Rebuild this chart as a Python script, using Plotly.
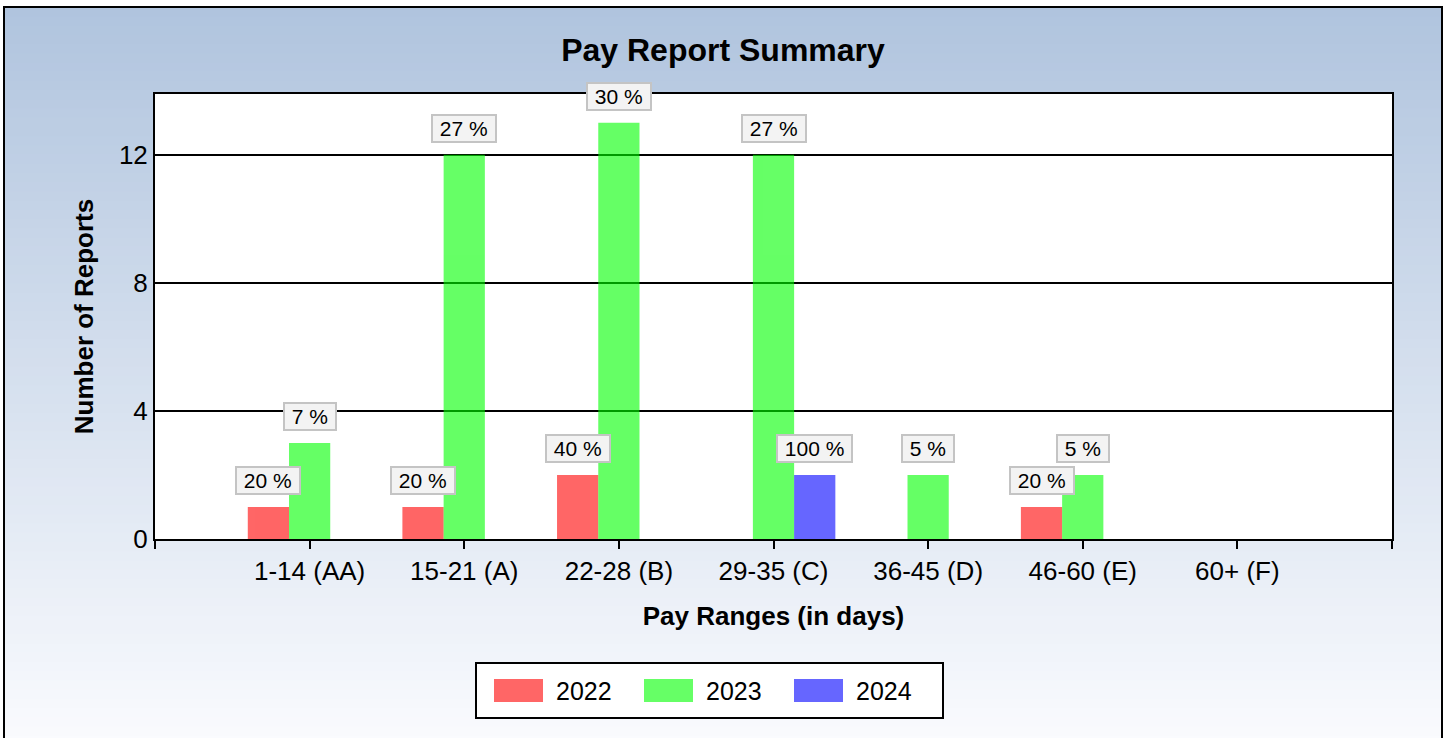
import plotly.graph_objects as go

# ---------------- data ----------------
CATEGORIES = ["1-14 (AA)", "15-21 (A)", "22-28 (B)", "29-35 (C)", "36-45 (D)", "46-60 (E)", "60+ (F)"]
SERIES = ["2022", "2023", "2024"]
VALUES_2022 = [1, 1, 2, 0, 0, 1, 0]
VALUES_2023 = [3, 12, 13, 12, 2, 2, 0]
VALUES_2024 = [0, 0, 0, 2, 0, 0, 0]
LABELS_2022 = ["20 %", "20 %", "40 %", "", "", "20 %", ""]
LABELS_2023 = ["7 %", "27 %", "30 %", "27 %", "5 %", "5 %", ""]
LABELS_2024 = ["", "", "", "100 %", "", "", ""]
Y_TICKS = [0, 4, 8, 12]

VALUES = [VALUES_2022, VALUES_2023, VALUES_2024]
LABELS = [LABELS_2022, LABELS_2023, LABELS_2024]
COLORS = ["#FF0000", "#00FF00", "#0000FF"]
SWATCH = ["#FF6666", "#66FF66", "#6666FF"]

FONT = "Arial, 'Liberation Sans', sans-serif"
W, H = 1446, 738
L, R, T, B = 155, 1392, 94, 539
BARGAP = 0.2


def px(x):
    return (x - L) / (R - L)


def py(y):
    return (B - y) / (B - T)


fig = go.Figure()
idx = list(range(len(CATEGORIES)))
for name, vals, col in zip(SERIES, VALUES, COLORS):
    fig.add_trace(go.Bar(x=idx, y=vals, name=name, marker=dict(color=col, line=dict(width=0)),
                         opacity=0.6, showlegend=False, hoverinfo="skip"))

shapes = []
# background gradient
top_c = (176, 196, 222)
bot_c = (250, 251, 254)
y_top, y_bot = 7, 745
N = 80
for k in range(N):
    f = (k + 0.5) / N
    c = tuple(int(round(top_c[j] + (bot_c[j] - top_c[j]) * f)) for j in range(3))
    ya = y_top + (y_bot - y_top) * k / N
    yb = y_top + (y_bot - y_top) * (k + 1) / N + 1
    shapes.append(dict(type="rect", xref="paper", yref="paper", x0=px(4), x1=px(1442),
                       y0=py(ya), y1=py(yb), fillcolor="rgb(%d,%d,%d)" % c,
                       line=dict(width=0), layer="below"))
# white plot area
shapes.append(dict(type="rect", xref="x domain", yref="y domain", x0=0, x1=1, y0=0, y1=1,
                   fillcolor="white", line=dict(width=0), layer="below"))
# outer border
shapes.append(dict(type="rect", xref="paper", yref="paper", x0=px(4), x1=px(1442),
                   y0=py(7), y1=py(760), fillcolor="rgba(0,0,0,0)",
                   line=dict(color="black", width=2), layer="below"))

annotations = []
bw = (1 - BARGAP) / len(SERIES)
for i, (vals, labs) in enumerate(zip(VALUES, LABELS)):
    for j, (v, t) in enumerate(zip(vals, labs)):
        if not t:
            continue
        annotations.append(dict(x=j + (i - (len(SERIES) - 1) / 2) * bw, y=v, xref="x", yref="y",
                                text=" " + t + " ", showarrow=False, yanchor="bottom", yshift=12,
                                font=dict(family=FONT, size=21, color="black"),
                                bgcolor="#F3F3F3", bordercolor="#C4C4C4", borderwidth=2, borderpad=1))

# custom legend
shapes.append(dict(type="rect", xref="paper", yref="paper", x0=px(476), x1=px(943),
                   y0=py(663), y1=py(718), fillcolor="white",
                   line=dict(color="black", width=2), layer="above"))
for i, (name, col) in enumerate(zip(SERIES, SWATCH)):
    x0 = 494 + i * 150
    shapes.append(dict(type="rect", xref="paper", yref="paper", x0=px(x0), x1=px(x0 + 49),
                       y0=py(679), y1=py(702), fillcolor=col, line=dict(width=0), layer="above"))
    annotations.append(dict(x=px(x0 + 60), y=py(690.5), xref="paper", yref="paper", text=name,
                            showarrow=False, xanchor="left", yanchor="middle",
                            font=dict(family=FONT, size=25, color="black")))

fig.update_layout(
    width=W, height=H,
    margin=dict(l=L, r=W - R, t=T, b=H - B),
    paper_bgcolor="white", plot_bgcolor="white",
    barmode="group", bargap=BARGAP, bargroupgap=0,
    showlegend=False,
    title=dict(text="<b>Pay Report Summary</b>", x=0.5, xanchor="center", y=(H - 50) / H,
               yanchor="middle", yref="container", font=dict(family=FONT, size=32, color="black")),
    shapes=shapes, annotations=annotations,
    font=dict(family=FONT, color="black"),
)
fig.update_xaxes(range=[-1, len(CATEGORIES)], tickmode="array",
                 tickvals=list(range(-1, len(CATEGORIES) + 1)),
                 ticktext=[""] + CATEGORIES + [""],
                 ticks="outside", ticklen=8, tickwidth=2, tickcolor="black",
                 showline=True, linecolor="black", linewidth=2, mirror=True,
                 showgrid=False, zeroline=False,
                 tickfont=dict(family=FONT, size=26, color="black"),
                 title=dict(text="<b>Pay Ranges (in days)</b>", standoff=22,
                            font=dict(family=FONT, size=26, color="black")))
fig.update_yaxes(range=[0, 13.9], tickmode="array", tickvals=Y_TICKS,
                 ticks="", showline=True, linecolor="black", linewidth=2, mirror=True,
                 showgrid=True, gridcolor="black", gridwidth=1.5, zeroline=False,
                 tickfont=dict(family=FONT, size=26, color="black"),
                 title=dict(text="<b>Number of Reports</b>", standoff=18,
                            font=dict(family=FONT, size=26, color="black")))

fig.write_html("out.html", post_script="document.body.style.margin='0';",
               config={"displayModeBar": False})
